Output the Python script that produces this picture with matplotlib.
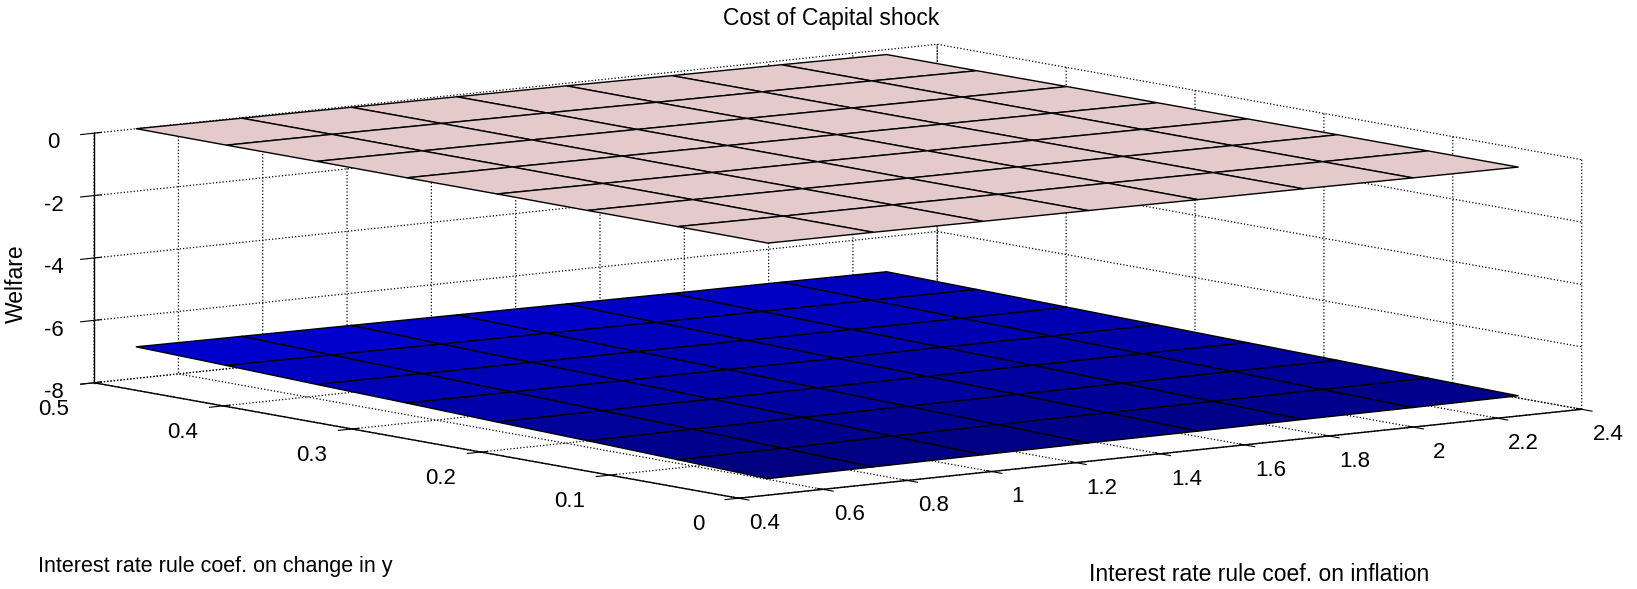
import numpy as np
import matplotlib
matplotlib.use('Agg')
import matplotlib.pyplot as plt
from matplotlib import cm
from matplotlib.colors import Normalize

# grid of rule coefficients
x_vals = [0.50, 0.75, 1.01, 1.26, 1.52, 1.77, 2.03, 2.28]  # coef. on inflation
y_vals = [0.01, 0.08, 0.15, 0.22, 0.29, 0.36, 0.43, 0.50]  # coef. on change in y

# welfare, rows = y_vals, cols = x_vals
welfare_top = [
    [-0.04, -0.05, -0.07, -0.08, -0.10, -0.11, -0.13, -0.14],
    [-0.03, -0.05, -0.06, -0.08, -0.09, -0.11, -0.13, -0.14],
    [-0.03, -0.04, -0.06, -0.08, -0.09, -0.11, -0.13, -0.14],
    [-0.02, -0.04, -0.06, -0.07, -0.09, -0.11, -0.13, -0.15],
    [-0.02, -0.03, -0.05, -0.07, -0.09, -0.11, -0.13, -0.15],
    [-0.01, -0.03, -0.05, -0.07, -0.09, -0.11, -0.13, -0.15],
    [-0.01, -0.02, -0.04, -0.06, -0.09, -0.11, -0.13, -0.16],
    [0.00, -0.02, -0.04, -0.06, -0.08, -0.11, -0.13, -0.16],
]
welfare_bottom = [
    [-7.59, -7.57, -7.55, -7.53, -7.52, -7.50, -7.49, -7.47],
    [-7.50, -7.49, -7.47, -7.46, -7.45, -7.44, -7.43, -7.42],
    [-7.41, -7.40, -7.39, -7.39, -7.38, -7.38, -7.37, -7.37],
    [-7.33, -7.32, -7.32, -7.32, -7.32, -7.32, -7.32, -7.32],
    [-7.24, -7.24, -7.25, -7.25, -7.26, -7.26, -7.27, -7.27],
    [-7.16, -7.17, -7.18, -7.19, -7.20, -7.21, -7.22, -7.22],
    [-7.07, -7.09, -7.11, -7.12, -7.14, -7.15, -7.16, -7.17],
    [-6.99, -7.01, -7.03, -7.05, -7.07, -7.09, -7.10, -7.12],
]

x_ticks = [0.4, 0.6, 0.8, 1.0, 1.2, 1.4, 1.6, 1.8, 2.0, 2.2, 2.4]
x_ticklabels = ['0.4', '0.6', '0.8', '1', '1.2', '1.4', '1.6', '1.8', '2', '2.2', '2.4']
y_ticks = [0, 0.1, 0.2, 0.3, 0.4, 0.5]
y_ticklabels = ['0', '0.1', '0.2', '0.3', '0.4', '0.5']
z_ticks = [-8, -6, -4, -2, 0]
z_ticklabels = ['-8', '-6', '-4', '-2', '0']

plt.rcParams['font.family'] = ['Liberation Sans', 'DejaVu Sans']
plt.rcParams['grid.linestyle'] = ':'
plt.rcParams['grid.color'] = 'k'
plt.rcParams['grid.linewidth'] = 0.9

fig = plt.figure(figsize=(16.37, 5.89), dpi=100)
side = 589 / 1637
cx, cy = 0.507, 0.526
ax = fig.add_axes([cx - side / 2, cy - 0.5, side, 1.0], projection='3d')

X, Y = np.meshgrid(x_vals, y_vals)
Zt = np.array(welfare_top)
Zb = np.array(welfare_bottom)

norm = Normalize(vmin=-7.6, vmax=0.0)
blue_cols = cm.jet(norm(Zb))
pink_cols = np.empty(Zt.shape + (4,))
pink_cols[:] = matplotlib.colors.to_rgba('#e4caca')

s1 = ax.plot_surface(X, Y, Zb, facecolors=blue_cols, edgecolor='k', linewidth=1.0,
                     shade=False, rstride=1, cstride=1, antialiased=True)
s2 = ax.plot_surface(X, Y, Zt, facecolors=pink_cols, edgecolor='k', linewidth=1.0,
                     shade=False, rstride=1, cstride=1, antialiased=True)
s1.set_clip_on(False)
s2.set_clip_on(False)

ax.set_xlim(0.4, 2.4)
ax.set_ylim(0, 0.5)
ax.set_zlim(-8, 0)
ax.set_xticks(x_ticks)
ax.set_xticklabels(x_ticklabels)
ax.set_yticks(y_ticks)
ax.set_yticklabels(y_ticklabels)
ax.set_zticks(z_ticks)
ax.set_zticklabels(z_ticklabels)
ax.tick_params(labelsize=16)
ax.xaxis.set_tick_params(pad=1)
ax.yaxis.set_tick_params(pad=2.5)
ax.zaxis.set_tick_params(pad=-2)

ax.set_proj_type('ortho')
ax.view_init(elev=7.9, azim=-127.5)
ax.set_box_aspect((1.05, 1.046, 0.249), zoom=2.507)

for axis in (ax.xaxis, ax.yaxis, ax.zaxis):
    axis.set_pane_color((1, 1, 1, 0))
    axis.pane.set_edgecolor((1, 1, 1, 0))
    axis.line.set_color('k')
    axis.line.set_linewidth(1.0)

fig.text(0.508, 0.968, 'Cost of Capital shock', ha='center', va='center', fontsize=16.5)
fig.text(0.0098, 0.518, 'Welfare', rotation=90, ha='center', va='center', fontsize=16.5)
fig.text(0.023, 0.039, 'Interest rate rule coef. on change in y', ha='left', va='center', fontsize=15.5)
fig.text(0.665, 0.025, 'Interest rate rule coef. on inflation', ha='left', va='center', fontsize=16.5)

fig.savefig('out.png', dpi=100)
